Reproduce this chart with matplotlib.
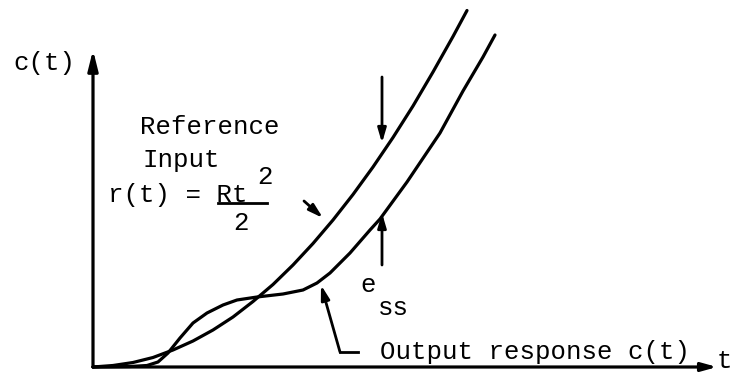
import matplotlib.pyplot as plt

# reference input r(t) = R t^2 / 2
t_ref = [0, 0.4, 0.8, 1.2, 1.6, 2.0, 2.4, 2.8, 3.2, 3.6, 4.0, 4.4, 4.8,
         5.2, 5.6, 6.0, 6.4, 6.8, 7.2, 7.48]
c_ref = [0, 0.03, 0.09, 0.19, 0.34, 0.52, 0.74, 1.00, 1.31, 1.65, 2.04,
         2.47, 2.94, 3.45, 4.00, 4.59, 5.22, 5.90, 6.61, 7.13]

# output response c(t)
t_out = [0, 0.74, 1.08, 1.30, 1.50, 1.74, 2.00, 2.28, 2.60, 2.88, 3.28,
         3.54, 3.80, 4.20, 4.48, 4.74, 5.14, 5.54, 5.74, 6.28, 6.94, 7.40,
         7.80, 8.04]
c_out = [0, 0.01, 0.03, 0.10, 0.28, 0.58, 0.88, 1.08, 1.24, 1.34, 1.40,
         1.43, 1.46, 1.54, 1.68, 1.88, 2.28, 2.74, 2.96, 3.70, 4.68, 5.52,
         6.20, 6.64]

font = 'Liberation Mono'
fs = 18.5
lw = 2.3

fig = plt.figure(figsize=(7.36, 3.77), dpi=100)
ax = fig.add_axes([0, 0, 1, 1])
ax.set_xlim(-1.86, 12.86)
ax.set_ylim(-0.2, 7.34)
ax.axis('off')

ax.plot(t_ref, c_ref, color='black', lw=lw, solid_capstyle='round', solid_joinstyle='round')
ax.plot(t_out, c_out, color='black', lw=lw, solid_capstyle='round', solid_joinstyle='round')

# axes with arrows
ax.annotate('', xy=(12.48, 0), xytext=(0, 0),
            arrowprops=dict(arrowstyle='-|>,head_length=0.9,head_width=0.25',
                            color='black', lw=lw, shrinkA=0, shrinkB=0))
ax.annotate('', xy=(0, 6.34), xytext=(0, 0),
            arrowprops=dict(arrowstyle='-|>,head_length=1.2,head_width=0.3',
                            color='black', lw=lw, shrinkA=0, shrinkB=0))

small = dict(arrowstyle='-|>,head_length=0.85,head_width=0.25', color='black',
             lw=2, shrinkA=0, shrinkB=0)
# e_ss arrows
ax.annotate('', xy=(5.78, 4.48), xytext=(5.78, 5.8), arrowprops=small)
ax.annotate('', xy=(5.78, 3.08), xytext=(5.78, 2.04), arrowprops=small)
# pointer to reference curve
ax.annotate('', xy=(4.6, 2.98), xytext=(4.22, 3.32), arrowprops=small)
# leader to output curve
ax.annotate('', xy=(4.56, 1.64), xytext=(4.94, 0.30), arrowprops=small)
ax.plot([4.94, 5.3], [0.30, 0.30], color='black', lw=2)

# labels
ax.text(-1.6, 6.08, 'c(t)', family=font, fontsize=fs, va='center', ha='left')
ax.text(0.94, 4.8, 'Reference', family=font, fontsize=fs, va='center', ha='left')
ax.text(0.98, 4.14, 'Input', family=font, fontsize=fs, va='center', ha='left')
ax.text(0.30, 3.44, 'r(t) = Rt', family=font, fontsize=fs, va='center', ha='left')
ax.text(3.28, 3.8, '2', family=font, fontsize=fs, va='center', ha='left')
ax.plot([2.5, 3.48], [3.28, 3.28], color='black', lw=2)
ax.text(2.96, 2.88, '2', family=font, fontsize=fs, va='center', ha='center')
ax.text(5.5, 1.64, 'e', family=font, fontsize=fs, va='center', ha='center')
ax.text(5.7, 1.18, 'ss', family=font, fontsize=fs, va='center', ha='left')
ax.text(5.74, 0.30, 'Output response c(t)', family=font, fontsize=fs,
        va='center', ha='left')
ax.text(12.78, -0.02, 't', family=font, fontsize=fs, va='baseline', ha='right')

fig.savefig('out.png', dpi=100)
